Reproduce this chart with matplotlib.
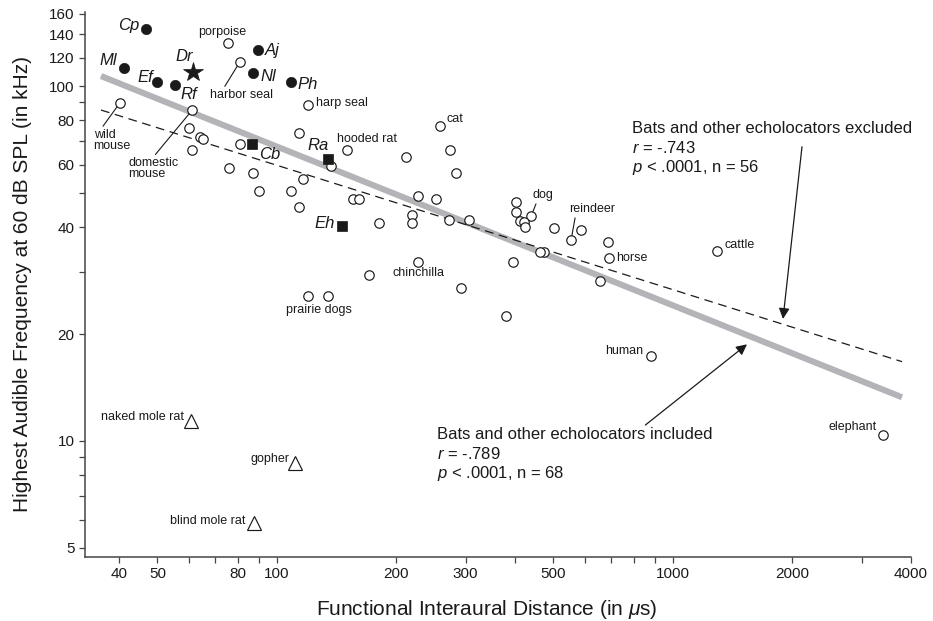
import matplotlib
matplotlib.use("Agg")
import matplotlib.pyplot as plt
from matplotlib.ticker import FixedLocator, FixedFormatter, NullLocator

plt.rcParams['font.family'] = ['Liberation Sans', 'DejaVu Sans']
plt.rcParams['mathtext.fontset'] = 'custom'
plt.rcParams['mathtext.rm'] = 'Liberation Sans'
plt.rcParams['mathtext.it'] = 'Liberation Sans:italic'

# ---------------- data ----------------
# open circles: other mammals (x = interaural distance in us, y = high-frequency limit in kHz)
open_x = [75.4, 80.6, 40.1, 61.1, 59.9, 64.2, 65.0, 61.1, 80.6, 76.0, 87.2, 90.0,
          119.8, 114.1, 137.2, 116.3, 108.7, 114.1, 150.5, 155.9, 161.1, 212.6,
          259.1, 274.6, 283.1, 227.0, 252.7, 220.1, 220.1, 180.9, 271.9, 305.3,
          227.0, 170.8, 292.7, 119.8, 134.5,
          403.0, 403.0, 439.0, 410.8, 420.5, 424.6, 500.7, 554.0, 587.1, 685.3,
          690.9, 474.2, 463.3, 395.4, 656.7, 380.2, 1294, 882, 3399]
open_y = [132.4, 116.6, 89.4, 85.4, 76.0, 72.0, 70.8, 66.0, 68.6, 58.6, 56.8, 50.7,
          88.4, 73.9, 59.6, 54.6, 50.7, 45.5, 66.0, 48.0, 48.0, 63.2,
          77.3, 66.0, 56.8, 49.0, 48.2, 43.3, 41.2, 41.2, 42.0, 41.9,
          31.9, 29.3, 27.0, 25.6, 25.6,
          47.0, 44.3, 43.0, 41.7, 41.3, 40.2, 39.7, 36.8, 39.3, 36.3,
          32.8, 34.0, 34.0, 31.9, 28.2, 22.5, 34.3, 17.3, 10.4]

# bats (filled circles)
bat_names = ['Cp', 'Ml', 'Ef', 'Rf', 'Aj', 'Nl', 'Ph']
bat_x = [46.9, 41.1, 50.0, 55.3, 89.9, 87.2, 108.7]
bat_y = [144.5, 112.2, 102.4, 100.5, 126.3, 108.6, 102.4]

# star
star_name = ['Dr']
star_x = [61.4]
star_y = [109.7]

# squares (other echolocators)
sq_names = ['Cb', 'Ra', 'Eh']
sq_x = [86.7, 134.5, 146.3]
sq_y = [68.6, 62.4, 40.4]

# triangles (subterranean)
tri_names = ['naked mole rat', 'gopher', 'blind mole rat']
tri_x = [60.9, 111.5, 87.5]
tri_y = [11.4, 8.65, 5.86]

# regression lines
line_x = [36.0, 3796]
incl_y = [106.7, 13.28]
excl_y = [85.6, 16.73]

# axis ticks
xticks = [40, 50, 60, 70, 80, 90, 100, 200, 300, 400, 500, 600, 700, 800, 900, 1000, 2000, 3000, 4000]
xticklabels = ['40', '50', '', '', '80', '', '100', '200', '300', '', '500', '', '', '', '', '1000', '2000', '', '4000']
yticks = [5, 6, 7, 8, 9, 10, 20, 30, 40, 50, 60, 70, 80, 90, 100, 120, 140, 160]
yticklabels = ['5', '', '', '', '', '10', '20', '', '40', '', '60', '', '80', '', '100', '120', '140', '160']

# ---------------- figure ----------------
W, H = 933, 621
fig = plt.figure(figsize=(W / 100, H / 100), dpi=100)
ax = fig.add_axes([85 / W, 1 - 556.7 / H, 826 / W, 545 / H])
ax.set_xscale('log')
ax.set_yscale('log')
ax.set_xlim(32.8, 4000)
ax.set_ylim(4.72, 162)

ink = '#1a1a1a'
spine_c = '#454545'

ax.plot(line_x, incl_y, color='#b4b4b8', lw=4.4, solid_capstyle='butt', zorder=1)
ax.plot(line_x, excl_y, color=ink, lw=0.9, linestyle=(0, (7, 4.5)), zorder=2)

ax.plot(open_x, open_y, 'o', ms=6.8, mfc='white', mec=ink, mew=0.85, zorder=3)
ax.plot(bat_x, bat_y, 'o', ms=7.4, mfc=ink, mec=ink, mew=0.5, zorder=4)
ax.plot(star_x, star_y, '*', ms=15, mfc=ink, mec=ink, mew=0.5, zorder=4)
ax.plot(sq_x, sq_y, 's', ms=7.8, mfc=ink, mec=ink, mew=0.5, zorder=4)
ax.plot(tri_x, tri_y, '^', ms=9.4, mfc='white', mec=ink, mew=0.85, zorder=4)

for s in ['top', 'right']:
    ax.spines[s].set_visible(False)
for s in ['left', 'bottom']:
    ax.spines[s].set_color(spine_c)
    ax.spines[s].set_linewidth(1.1)

ax.xaxis.set_major_locator(FixedLocator(xticks))
ax.xaxis.set_major_formatter(FixedFormatter(xticklabels))
ax.xaxis.set_minor_locator(NullLocator())
ax.yaxis.set_major_locator(FixedLocator(yticks))
ax.yaxis.set_major_formatter(FixedFormatter(yticklabels))
ax.yaxis.set_minor_locator(NullLocator())
ax.tick_params(axis='both', which='major', direction='out', length=4.5, width=0.9,
               color=spine_c, labelsize=11, labelcolor=ink, pad=3)

ax.set_xlabel('Functional Interaural Distance (in $\\mu$s)', fontsize=15, color=ink, labelpad=8)
ax.set_ylabel('Highest Audible Frequency at 60 dB SPL (in kHz)', fontsize=15, color=ink, labelpad=12)
ax.xaxis.set_label_coords(0.487, -0.075)

# ---------------- labels ----------------
def lab(x, y, text, dx, dy, ha='center', size=9, style='normal', **kw):
    ax.annotate(text, (x, y), xytext=(dx, dy), textcoords='offset pixels',
                ha=ha, va='center', fontsize=size, fontstyle=style, color=ink, zorder=6, **kw)

bat_off = {'Cp': (-7, 4.3, 'right'), 'Ml': (-6.6, 8.3, 'right'), 'Ef': (-4, 5, 'right'),
           'Rf': (13.7, -9, 'center'), 'Aj': (6, 0, 'left'), 'Nl': (7.3, -2.7, 'left'),
           'Ph': (6.6, -1.7, 'left')}
for n, x, y in zip(bat_names, bat_x, bat_y):
    dx, dy, ha = bat_off[n]
    lab(x, y, n, dx, dy, ha=ha, size=12, style='italic')
lab(star_x[0], star_y[0], star_name[0], -8.8, 15, size=12, style='italic')
sq_off = {'Cb': (6.6, -10, 'left'), 'Ra': (-9.8, 13, 'center'), 'Eh': (-7.7, 2, 'right')}
for n, x, y in zip(sq_names, sq_x, sq_y):
    dx, dy, ha = sq_off[n]
    lab(x, y, n, dx, dy, ha=ha, size=12, style='italic')

tri_off = [(-7.7, 3.3), (-5.7, 4), (-8.3, 2.6)]
for n, x, y, (dx, dy) in zip(tri_names, tri_x, tri_y, tri_off):
    lab(x, y, n, dx, dy, ha='right')

# plain labels on open circles (index into open arrays)
lab(open_x[0], open_y[0], 'porpoise', -6, 10.4)
lab(open_x[12], open_y[12], 'harp seal', 8.7, 2, ha='left')
lab(open_x[18], open_y[18], 'hooded rat', 20, 11)
lab(open_x[22], open_y[22], 'cat', 6, 6.7, ha='left')
lab(open_x[32], open_y[32], 'chinchilla', 1.2, -11)
lab(open_x[35], open_y[35], 'prairie dogs', 11.5, -14)
lab(open_x[47], open_y[47], 'horse', 7.3, 0, ha='left')
lab(open_x[53], open_y[53], 'cattle', 7.3, 6.3, ha='left')
lab(open_x[54], open_y[54], 'human', -7.4, 5.3, ha='right')
lab(open_x[55], open_y[55], 'elephant', -6.7, 8.3, ha='right')

def leader(i, text, dx, dy, relpos, ha='center', ls=1.2):
    ax.annotate(text, (open_x[i], open_y[i]), xytext=(dx, dy), textcoords='offset pixels',
                ha=ha, va='center', fontsize=9, color=ink, linespacing=ls, zorder=6,
                arrowprops=dict(arrowstyle='-', color=ink, lw=0.8, shrinkA=0, shrinkB=3.3,
                                relpos=relpos))

leader(1, 'harbor seal', 2.4, -32.7, (0.2, 1.0))
leader(2, 'wild\nmouse', -26, -37.2, (0.2, 1.0), ha='left', ls=0.9)
leader(3, 'domestic\nmouse', -63.4, -58.4, (0.49, 1.0), ha='left', ls=0.9)
leader(39, 'dog', 12.3, 21, (0.2, 0.0))
leader(44, 'reindeer', 20.6, 31, (0.15, 0.0))

# ---------------- statistics annotations ----------------
fs = 12
for i, t in enumerate(['Bats and other echolocators excluded', '$r$ = -.743', '$p$ < .0001, n = 56']):
    fig.text(631.7 / W, 1 - (128.3 + 19.5 * i) / H, t, fontsize=fs, color=ink, va='center', ha='left')
for i, t in enumerate(['Bats and other echolocators included', '$r$ = -.789', '$p$ < .0001, n = 68']):
    fig.text(437 / W, 1 - (434.3 + 19.5 * i) / H, t, fontsize=fs, color=ink, va='center', ha='left')

arrow = dict(arrowstyle='-|>', color=ink, lw=0.9, mutation_scale=16, shrinkA=0, shrinkB=0)
ax.annotate('', xy=(1900, 22.07), xytext=(2122, 67.45), arrowprops=arrow, zorder=7)
ax.annotate('', xy=(1541, 18.72), xytext=(853.4, 11.09), arrowprops=arrow, zorder=7)

fig.savefig('out.png', dpi=100, facecolor='white')
